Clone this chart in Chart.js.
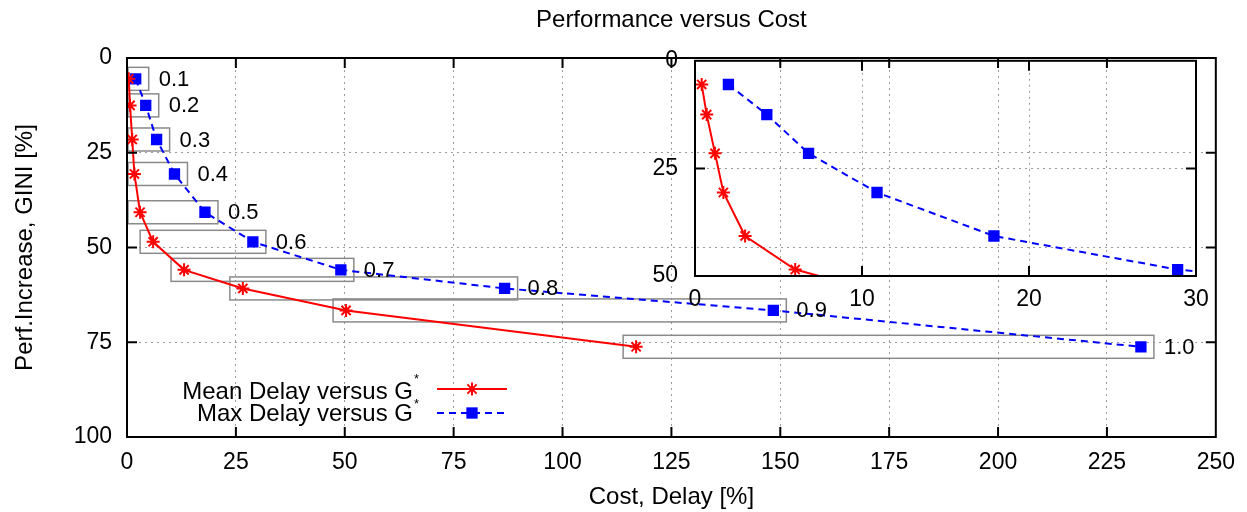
<!DOCTYPE html>
<html>
<head>
<meta charset="utf-8">
<title>Performance versus Cost</title>
<script src="https://cdn.jsdelivr.net/npm/chart.js"></script>
<style>
    html, body { margin: 0; padding: 0; background: #fff; }
    #wrap { position: relative; width: 1247px; height: 512px; }
    #mainChart { position: absolute; left: 0; top: 0; }
    #insetChart { position: absolute; left: 600px; top: 30px; }
</style>
</head>
<body>
<div id="wrap">
    <canvas id="mainChart" width="1247" height="512"></canvas>
    <canvas id="insetChart" width="640" height="300"></canvas>
</div>
<script>
// G threshold of each point pair
const gLevels = ['0.1', '0.2', '0.3', '0.4', '0.5', '0.6', '0.7', '0.8', '0.9', '1.0'];
// Perf. increase (GINI) shared by both series
const perfIncrease = [5.5, 12.5, 21.5, 30.6, 40.7, 48.5, 55.9, 60.8, 66.6, 76.2];
// Cost (delay) per series
const meanDelay = [0.4, 0.7, 1.2, 1.7, 3.0, 6.0, 13.1, 26.6, 50.3, 116.9];
const maxDelay = [2.0, 4.3, 6.8, 10.9, 17.9, 28.9, 49.1, 86.7, 148.4, 232.8];

const costTicks = [0, 25, 50, 75, 100, 125, 150, 175, 200, 225, 250];
const perfTicks = [0, 25, 50, 75, 100];
const zoomCostTicks = [0, 10, 20, 30];
const zoomPerfTicks = [0, 25, 50];

const FONT = "'Liberation Sans', Arial, Helvetica, sans-serif";
Chart.defaults.font.family = FONT;
Chart.defaults.color = '#000';

function toPoints(costs) {
    return costs.map((c, i) => ({ x: c, y: perfIncrease[i] }));
}

function buildDatasets() {
    return [{
        label: 'Mean Delay versus G',
        data: toPoints(meanDelay),
        borderColor: '#ff0000',
        backgroundColor: '#ff0000',
        borderWidth: 2,
        pointStyle: 'star',
        pointRadius: 6.5,
        pointBorderWidth: 2,
        pointBorderColor: '#ff0000',
        tension: 0
    }, {
        label: 'Max Delay versus G',
        data: toPoints(maxDelay),
        borderColor: '#0000ff',
        backgroundColor: '#0000ff',
        borderWidth: 2,
        borderDash: [7, 5],
        pointStyle: 'rect',
        pointRadius: 8,
        pointBorderWidth: 0,
        tension: 0
    }];
}

function fixedTicks(values) {
    return function(scale) {
        scale.ticks = values.map(v => ({ value: v }));
    };
}

// dotted grid only between the frame edges
function innerGrid(values) {
    const lo = values[0], hi = values[values.length - 1];
    return ctx => (ctx.tick && ctx.tick.value > lo && ctx.tick.value < hi) ? '#9a9a9a' : 'rgba(0,0,0,0)';
}

// closed frame with inward ticks on all four sides
const framePlugin = {
    id: 'frame',
    afterDraw(chart, args, opts) {
        const { ctx, chartArea: a, scales } = chart;
        const len = opts.tickLength || 10;
        ctx.save();
        ctx.setLineDash([]);
        ctx.strokeStyle = '#000';
        ctx.lineWidth = 2;
        ctx.beginPath();
        scales.x.ticks.forEach(t => {
            const px = scales.x.getPixelForValue(t.value);
            if (px <= a.left + 1 || px >= a.right - 1) return;
            ctx.moveTo(px, a.bottom); ctx.lineTo(px, a.bottom - len);
            ctx.moveTo(px, a.top); ctx.lineTo(px, a.top + len);
        });
        scales.y.ticks.forEach(t => {
            const py = scales.y.getPixelForValue(t.value);
            if (py <= a.top + 1 || py >= a.bottom - 1) return;
            ctx.moveTo(a.left, py); ctx.lineTo(a.left + len, py);
            ctx.moveTo(a.right, py); ctx.lineTo(a.right - len, py);
        });
        ctx.stroke();
        ctx.strokeRect(a.left, a.top, a.right - a.left, a.bottom - a.top);
        ctx.restore();
    }
};

// boxes round each mean/max pair, with the G value beside them
const pairBoxPlugin = {
    id: 'pairBoxes',
    beforeDatasetsDraw(chart) {
        const { ctx, chartArea: a } = chart;
        const mean = chart.getDatasetMeta(0).data;
        const max = chart.getDatasetMeta(1).data;
        ctx.save();
        ctx.strokeStyle = '#8a8a8a';
        ctx.lineWidth = 1.5;
        gLevels.forEach((g, i) => {
            const left = Math.max(mean[i].x - 13, a.left + 1);
            const right = max[i].x + 13;
            ctx.strokeRect(left, max[i].y - 11.5, right - left, 23);
        });
        ctx.restore();
    },
    afterDatasetsDraw(chart) {
        const { ctx } = chart;
        const max = chart.getDatasetMeta(1).data;
        ctx.save();
        ctx.fillStyle = '#000';
        ctx.font = '22px ' + FONT;
        ctx.textAlign = 'left';
        ctx.textBaseline = 'middle';
        gLevels.forEach((g, i) => {
            ctx.fillText(g, max[i].x + 23, max[i].y + 1);
        });
        ctx.restore();
    }
};

// key in the lower left: label right aligned, sample on the right
const keyPlugin = {
    id: 'key',
    afterDraw(chart) {
        const { ctx } = chart;
        const rows = [{ base: 399, line: 389, star: 383 }, { base: 421, line: 413, star: 408 }];
        ctx.save();
        chart.data.datasets.forEach((ds, i) => {
            const r = rows[i];
            ctx.fillStyle = '#000';
            ctx.textBaseline = 'alphabetic';
            ctx.textAlign = 'right';
            ctx.font = '24px ' + FONT;
            ctx.fillText(ds.label, 413, r.base);
            ctx.textAlign = 'left';
            ctx.font = '13px ' + FONT;
            ctx.fillText('*', 414, r.star);

            ctx.strokeStyle = ds.borderColor;
            ctx.lineWidth = ds.borderWidth;
            ctx.setLineDash(ds.borderDash || []);
            ctx.beginPath();
            ctx.moveTo(437, r.line);
            ctx.lineTo(507, r.line);
            ctx.stroke();
            ctx.setLineDash([]);
            ctx.fillStyle = ds.backgroundColor;
            ctx.strokeStyle = ds.borderColor;
            ctx.lineWidth = ds.pointBorderWidth;
            Chart.helpers.drawPoint(ctx, {
                pointStyle: ds.pointStyle,
                radius: ds.pointRadius,
                borderWidth: ds.pointBorderWidth,
                rotation: 0
            }, 472, r.line);
        });
        ctx.restore();
    }
};

function buildScale(min, max, ticks, extra) {
    return Object.assign({
        type: 'linear',
        min: min,
        max: max,
        afterBuildTicks: fixedTicks(ticks),
        grid: { color: innerGrid(ticks), lineWidth: 1, drawTicks: false },
        border: { display: false, dash: [2, 4] }
    }, extra);
}

function initializeMainChart() {
    new Chart(document.getElementById('mainChart'), {
        type: 'line',
        data: { datasets: buildDatasets() },
        options: {
            responsive: false,
            animation: false,
            layout: { padding: { left: 0, right: 26, top: 0, bottom: 0 } },
            scales: {
                x: buildScale(0, 250, costTicks, {
                    ticks: { padding: 12, font: { size: 23 }, maxRotation: 0, autoSkip: false },
                    title: { display: true, text: 'Cost, Delay [%]', font: { size: 24 }, padding: { top: 0, bottom: 0.6 } },
                    afterFit: s => { s.height = 75; }
                }),
                y: buildScale(0, 100, perfTicks, {
                    reverse: true,
                    ticks: { padding: 15, font: { size: 23 }, autoSkip: false },
                    title: { display: true, text: 'Perf.Increase, GINI [%]', font: { size: 24 }, padding: { top: 10.6, bottom: 0 } },
                    afterFit: s => { s.width = 127; }
                })
            },
            plugins: {
                legend: { display: false },
                tooltip: { enabled: false },
                title: {
                    display: true,
                    fullSize: false,
                    text: 'Performance versus Cost',
                    color: '#000',
                    font: { size: 24, weight: 'normal' },
                    padding: { top: 6, bottom: 23.2 }
                },
                frame: { tickLength: 10 }
            }
        },
        plugins: [pairBoxPlugin, framePlugin, keyPlugin]
    });
}

function initializeInsetChart() {
    new Chart(document.getElementById('insetChart'), {
        type: 'line',
        data: { datasets: buildDatasets() },
        options: {
            responsive: false,
            animation: false,
            layout: { padding: { left: 0, right: 44, top: 30, bottom: 0 } },
            scales: {
                x: buildScale(0, 30, zoomCostTicks, {
                    ticks: { padding: 10.2, font: { size: 23 }, maxRotation: 0, autoSkip: false },
                    afterFit: s => { s.height = 54; }
                }),
                y: buildScale(0, 50, zoomPerfTicks, {
                    reverse: true,
                    ticks: { padding: 17, font: { size: 23 }, autoSkip: false },
                    afterFit: s => { s.width = 95; }
                })
            },
            plugins: {
                legend: { display: false },
                tooltip: { enabled: false },
                frame: { tickLength: 10 }
            }
        },
        plugins: [framePlugin]
    });
}

document.addEventListener('DOMContentLoaded', function() {
    initializeMainChart();
    initializeInsetChart();
});
</script>
</body>
</html>
